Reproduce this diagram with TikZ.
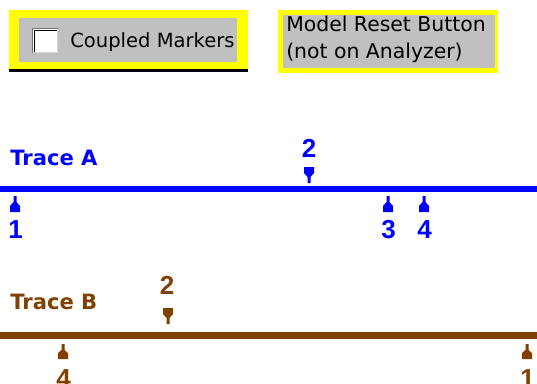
\documentclass[tikz,border=0pt]{standalone}
\usepackage{fontspec}
\setmainfont{DejaVu Sans}
\newfontfamily\numfont{Liberation Sans}
\usetikzlibrary{positioning}
\definecolor{traceA}{RGB}{0,0,255}
\definecolor{traceB}{RGB}{128,64,0}
\definecolor{btnface}{RGB}{192,192,192}
\definecolor{hilite}{RGB}{255,255,0}

\begin{document}
\begin{tikzpicture}[x=0.025cm, y=-0.025cm,
  btntext/.style={font=\fontsize{13.9}{19.2}\selectfont, inner sep=0pt},
  tracelbl/.style={font=\fontsize{15}{17}\selectfont\bfseries, anchor=west, inner sep=0pt},
  mknum/.style={font=\numfont\fontsize{18.5}{20}\selectfont\bfseries, inner sep=0pt}]
\useasboundingbox (0,0) rectangle (537,383);
% --- Coupled markers check box ---
\fill[hilite] (9,10) rectangle (248,69);
\fill[black] (9,69) rectangle (248,72);
\fill[btnface] (19,18) rectangle (237,62);
\fill[white] (32,28) rectangle (58,53);
\draw[black!55, line width=0.7pt] (32.5,53) -- (32.5,28.5) -- (58,28.5);
\draw[black, line width=1.2pt] (34.5,51.5) -- (34.5,30.5) -- (56.5,30.5);
\draw[black!15, line width=0.7pt] (33,52.5) -- (57.5,52.5) -- (57.5,29);
\node[btntext, anchor=west] (cpl) at (70,42) {Coupled Markers};
% --- Model reset button ---
\fill[hilite] (278,10) rectangle (498,73);
\fill[btnface] (283,15) rectangle (495,68);
\node[btntext, anchor=north west, align=left,
  font=\fontsize{14.5}{19.2}\selectfont] (rst) at (286,16)
  {Model Reset Button\\(not on Analyzer)};

% --- Trace A ---
\node[tracelbl, traceA] (trA) at (10,158) {Trace A};
\coordinate (aL) at (0,189);
\coordinate (aR) at (537,189);
\draw[traceA, line width=4.5pt] (aL) -- (aR);
% markers below the trace
\foreach \mx/\mn in {15/1, 388/3, 424/4} {
  \fill[traceA] (\mx-1.5,196) -- (\mx+1.5,196) -- (\mx+1.5,202)
    -- (\mx+5,206) -- (\mx+5,212) -- (\mx-5,212) -- (\mx-5,206)
    -- (\mx-1.5,202) -- cycle;
  \node[mknum, traceA] (mA\mn) at (\mx+0.5,230) {\mn};
}
% marker above the trace
\fill[traceA] (304,167) -- (314,167) -- (314,173) -- (310.5,177)
  -- (310.5,183) -- (307.5,183) -- (307.5,177) -- (304,173) -- cycle;
\node[mknum, traceA] (mA2) at (309,148) {2};

% --- Trace B ---
\node[tracelbl, traceB] (trB) at (10,302) {Trace B};
\coordinate (bL) at (0,335.5);
\coordinate (bR) at (537,335.5);
\draw[traceB, line width=4.5pt] (bL) -- (bR);
% markers below the trace
\foreach \mx/\mn in {63/4, 527/1} {
  \fill[traceB] (\mx-1.5,344) -- (\mx+1.5,344) -- (\mx+1.5,350)
    -- (\mx+5,353) -- (\mx+5,359) -- (\mx-5,359) -- (\mx-5,353)
    -- (\mx-1.5,350) -- cycle;
  \node[mknum, traceB] (mB\mn) at (\mx+0.5,379) {\mn};
}
% marker above the trace
\fill[traceB] (163,308) -- (173,308) -- (173,314) -- (169.5,318)
  -- (169.5,324) -- (166.5,324) -- (166.5,318) -- (163,314) -- cycle;
\node[mknum, traceB] (mB2) at (167,285) {2};
\end{tikzpicture}
\end{document}
